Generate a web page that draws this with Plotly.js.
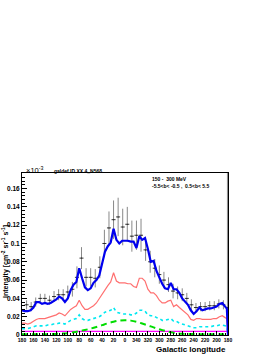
<!DOCTYPE html>
<html>
<head>
<meta charset="utf-8">
<script src="https://cdn.plot.ly/plotly-3.0.1.min.js"></script>
<style>html,body{margin:0;padding:0;background:#fff;}#chart{width:274px;height:355px;}</style>
</head>
<body>
<div id="chart"></div>
<script>
// Galactic longitude grid for model curves (degrees, 180 .. -180)
const lonModel = [180,175,170,165,160,155,150,145,140,135,
  130,125,120,115,110,105,100,95,90,85,
  80,75,70,65,60,55,50,45,40,35,
  30,25,20,15,10,5,0,-5,-10,-15,
  -20,-25,-30,-35,-40,-45,-50,-55,-60,-65,
  -70,-75,-80,-85,-90,-95,-100,-105,-110,-115,
  -120,-125,-130,-135,-140,-145,-150,-155,-160,-165,
  -170,-175,-178,-180];
// total model (blue)
const totalModel = [0.027,0.026,0.026,0.027,0.030,0.036,0.036,0.034,0.035,0.034,
  0.035,0.037,0.039,0.042,0.040,0.036,0.040,0.049,0.055,0.058,
  0.073,0.062,0.052,0.049,0.051,0.057,0.060,0.065,0.078,0.091,
  0.097,0.101,0.116,0.104,0.100,0.103,0.103,0.103,0.102,0.102,
  0.095,0.108,0.104,0.106,0.094,0.080,0.081,0.070,0.063,0.056,
  0.051,0.050,0.057,0.050,0.050,0.046,0.040,0.037,0.033,0.027,
  0.023,0.026,0.030,0.027,0.028,0.029,0.029,0.030,0.031,0.034,
  0.035,0.031,0.029,0.000];
// pi0 decay (red)
const pi0Model = [0.013,0.013,0.012,0.013,0.015,0.017,0.018,0.018,0.018,0.019,
  0.020,0.021,0.022,0.024,0.023,0.021,0.025,0.028,0.030,0.032,
  0.038,0.032,0.028,0.028,0.030,0.032,0.035,0.040,0.044,0.050,
  0.054,0.058,0.068,0.059,0.057,0.057,0.057,0.056,0.056,0.053,
  0.052,0.062,0.062,0.059,0.050,0.046,0.046,0.043,0.038,0.035,
  0.035,0.037,0.038,0.031,0.033,0.030,0.027,0.025,0.022,0.017,
  0.016,0.018,0.018,0.017,0.017,0.017,0.017,0.018,0.018,0.020,
  0.021,0.019,0.018,0.000];
// bremsstrahlung (cyan dotted)
const bremsModel = [0.007,0.007,0.007,0.008,0.009,0.010,0.010,0.010,0.010,0.011,
  0.011,0.012,0.012,0.013,0.013,0.012,0.014,0.016,0.017,0.018,
  0.022,0.018,0.016,0.016,0.017,0.018,0.019,0.020,0.022,0.025,
  0.026,0.027,0.030,0.025,0.024,0.023,0.023,0.023,0.022,0.022,
  0.024,0.027,0.027,0.026,0.022,0.021,0.021,0.019,0.018,0.016,
  0.016,0.017,0.018,0.015,0.015,0.013,0.012,0.011,0.010,0.009,
  0.008,0.008,0.009,0.009,0.009,0.009,0.009,0.010,0.010,0.011,
  0.011,0.010,0.009,0.000];
// inverse Compton (green dashed)
const lonIC = [180,170,160,150,140,130,120,110,100,90,80,70,60,50,40,30,20,10,0,
  -10,-20,-30,-40,-50,-60,-70,-80,-90,-100,-110,-120,-130,-140,-150,-160,-170,-180];
const icModel = [0.0008,0.0008,0.0008,0.0008,0.0009,0.0010,0.0012,0.0015,0.0020,0.0030,
  0.0042,0.0055,0.0070,0.0088,0.0108,0.0128,0.0145,0.0157,0.0160,
  0.0157,0.0145,0.0125,0.0105,0.0083,0.0063,0.0045,0.0030,0.0020,0.0013,
  0.0011,0.0010,0.0009,0.0009,0.0008,0.0008,0.0008,0.0008];
// isotropic (magenta)
const lonIso = [180,-180];
const isoModel = [0.004,0.004];
// data points
const lonData = [172,164,156,148,140,132,124,116,108,100,92,84,76,68,60,52,44,36,28,20,12,4,
  -4,-12,-20,-28,-36,-44,-52,-60,-68,-76,-84,-92,-100,-108,-116,-124,-132,-140,-148,-156,-164,-172,-179];
const dataVal = [0.033,0.031,0.036,0.040,0.040,0.038,0.042,0.044,0.044,0.047,0.050,0.063,0.084,0.063,0.063,0.062,0.074,0.100,0.117,0.126,0.129,0.118,
  0.121,0.108,0.109,0.109,0.093,0.080,0.073,0.066,0.060,0.055,0.048,0.046,0.044,0.040,0.033,0.030,0.031,0.031,0.032,0.032,0.034,0.033,0.030];
const dataErr = [0.005,0.005,0.005,0.005,0.005,0.005,0.006,0.006,0.006,0.007,0.008,0.012,0.012,0.010,0.010,0.010,0.012,0.015,0.018,0.021,0.021,0.020,
  0.019,0.017,0.016,0.018,0.012,0.012,0.010,0.010,0.009,0.008,0.008,0.007,0.007,0.006,0.006,0.005,0.005,0.005,0.005,0.005,0.005,0.005,0.300];
const binHalf = 3.5;
const tickVals = [180,160,140,120,100,80,60,40,20,0,-20,-40,-60,-80,-100,-120,-140,-160,-180];
const tickText = ['180','160','140','120','100','80','60','40','20','0','340','320','300','280','260','240','220','200','180'];
const yTickVals = [0,0.02,0.04,0.06,0.08,0.1,0.12,0.14,0.16];
const yTickText = ['0','0.02','0.04','0.06','0.08','0.1','0.12','0.14','0.16'];

const F = 'Liberation Sans, Arial, Helvetica, sans-serif';
const traces = [
  {x: lonData, y: dataVal, type:'scatter', mode:'markers', marker:{size:1, color:'#222'},
   error_y:{type:'data', array:dataErr, visible:true, color:'#888', thickness:1, width:0},
   error_x:{type:'constant', value:binHalf, visible:true, color:'#333', thickness:1, width:0},
   hoverinfo:'none'},
  {x: lonIso, y: isoModel, type:'scatter', mode:'lines', line:{color:'#ff00ff', width:1.2}},
  {x: lonIC, y: icModel, type:'scatter', mode:'lines', line:{color:'#00dd00', width:2, dash:'6px,4px', shape:'spline'}},
  {x: lonModel, y: bremsModel, type:'scatter', mode:'lines', line:{color:'#00e8f0', width:1.6, dash:'dot'}},
  {x: lonModel, y: pi0Model, type:'scatter', mode:'lines', line:{color:'#ff7070', width:1.2}},
  {x: lonModel, y: totalModel, type:'scatter', mode:'lines', line:{color:'#0000ee', width:2.2}}
];

const px = v => (v-22)/206;
const py = v => (335-v)/162;
const layout = {
  width:274, height:355, showlegend:false,
  paper_bgcolor:'#fff', plot_bgcolor:'#fff',
  margin:{l:22, r:46, t:173, b:20, pad:0},
  xaxis:{range:[180,-180], tickmode:'array', tickvals:tickVals, ticktext:tickText,
    ticks:'inside', ticklen:4, tickcolor:'#000', showgrid:false, zeroline:false,
    showline:true, mirror:true, linecolor:'#000', linewidth:1,
    tickfont:{family:F, size:5, color:'#000', weight:'bold'}, tickangle:0,
    minor:{ticks:'inside', ticklen:2, dtick:5, tickcolor:'#000'}},
  yaxis:{range:[0,0.177], tickmode:'array', tickvals:yTickVals, ticktext:yTickText,
    ticks:'inside', ticklen:5, tickcolor:'#000', showgrid:false, zeroline:false,
    showline:true, mirror:true, linecolor:'#000', linewidth:1,
    tickfont:{family:F, size:6.5, color:'#000', weight:'bold'},
    minor:{ticks:'inside', ticklen:2.5, dtick:0.004, tickcolor:'#000'}},
  annotations:[
    {xref:'paper', yref:'paper', x:px(24), y:py(170), xanchor:'left', yanchor:'middle', showarrow:false,
     text:'×10<sup>-3</sup>', font:{family:F, size:7.5, color:'#000'}},
    {xref:'paper', yref:'paper', x:px(52), y:py(171), xanchor:'left', yanchor:'middle', showarrow:false,
     text:'galdef ID XX.4_N568', font:{family:F, size:5, color:'#000', weight:'bold'}},
    {xref:'paper', yref:'paper', x:px(150), y:py(179), xanchor:'left', yanchor:'middle', showarrow:false,
     text:'150 -  300 MeV', font:{family:F, size:5, color:'#000', weight:'bold'}},
    {xref:'paper', yref:'paper', x:px(150), y:py(186), xanchor:'left', yanchor:'middle', showarrow:false,
     text:'-5.5&lt;b&lt; -0.5 ,  0.5&lt;b&lt; 5.5', font:{family:F, size:5, color:'#000', weight:'bold'}},
    {xref:'paper', yref:'paper', x:px(5), y:py(262), xanchor:'center', yanchor:'middle', showarrow:false, textangle:-90,
     text:'Intensity [cm<sup>-2</sup> sr<sup>-1</sup> s<sup>-1</sup>]', font:{family:F, size:7, color:'#000', weight:'bold'}},
    {xref:'paper', yref:'paper', x:px(228), y:py(349), xanchor:'right', yanchor:'middle', showarrow:false,
     text:'Galactic longitude', font:{family:F, size:8, color:'#000', weight:'bold'}}
  ]
};
Plotly.newPlot('chart', traces, layout, {staticPlot:true, displayModeBar:false});
</script>
</body>
</html>
